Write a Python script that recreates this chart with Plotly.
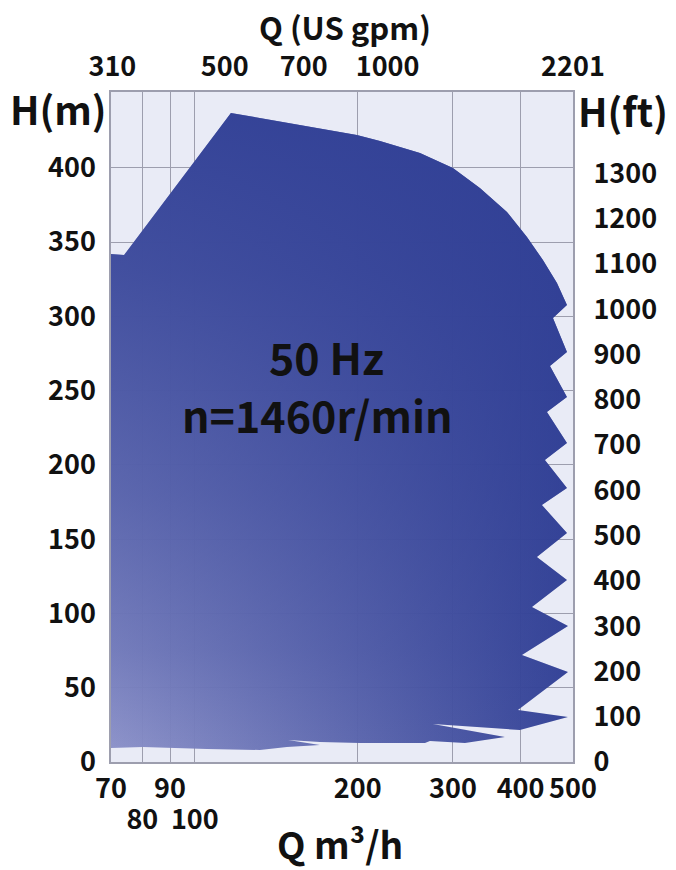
import math
import plotly.graph_objects as go

# Operating envelope boundary (Q in m3/h, H in m), traced clockwise
Q_BOUNDARY = [70, 74.0, 116.6, 199.3, 219.9, 260.7, 299.9, 336.4, 377.5, 411.0, 439.9, 467.0, 487.3,
              459.1, 487.3, 453.3, 487.3, 447.5, 487.3, 443.6, 487.3, 438.0, 487.3, 428.7, 487.3,
              419.8, 489.4, 402.3, 489.4, 395.5, 489.4, 398.8,
              275.4, 374.3, 315.7, 272.0, 266.3, 202.0, 170.3, 148.7, 170.3, 148.0, 131.9, 105.3,
              80.2, 70]
H_BOUNDARY = [342.0, 341.3, 436.9, 422.1, 418.0, 409.9, 399.8, 386.4, 370.2, 353.4, 337.9, 322.4, 307.6,
              298.9, 276.0, 266.6, 245.7, 235.6, 214.7, 203.3, 184.4, 173.0, 154.1, 138.0, 122.5,
              104.3, 91.5, 72.0, 60.6, 35.0, 30.3, 21.5,
              25.6, 16.8, 12.8, 14.1, 12.8, 12.8, 13.5, 14.8, 11.4, 10.1, 8.1, 8.75,
              10.1, 9.4]

Q_TICKS = [70, 80, 90, 100, 200, 300, 400, 500]
Q_TICK_TEXT_ROW1 = ["70", "", "90", "", "200", "300", "400", "500"]
Q_TICKS_ROW2 = [80, 100]
GPM_TICKS = [310, 500, 700, 1000, 2201]
H_M_TICKS = [0, 50, 100, 150, 200, 250, 300, 350, 400]
H_FT_TICKS = [0, 100, 200, 300, 400, 500, 600, 700, 800, 900, 1000, 1100, 1200, 1300]

Q_MIN, Q_MAX = 70, 500
H_MAX = 451
M3H_TO_GPM = 4.4029
M_TO_FT = 1 / 0.3048

FONT = "Noto Sans CJK KR"
DARK = "48,63,149"

fig = go.Figure()

# base layer: horizontal gradient
fig.add_trace(go.Scatter(
    x=Q_BOUNDARY, y=H_BOUNDARY, mode="lines", line=dict(width=0),
    fill="toself", opacity=0.96,
    fillgradient=dict(type="horizontal",
                      colorscale=[[0, "#8a90c8"], [1, f"rgb({DARK})"]]),
    hoverinfo="skip", showlegend=False))

# overlay: vertical darkening toward the top
fig.add_trace(go.Scatter(
    x=Q_BOUNDARY, y=H_BOUNDARY, mode="lines", line=dict(width=0),
    fill="toself",
    fillgradient=dict(type="vertical",
                      colorscale=[[0, f"rgba({DARK},0)"], [0.156, f"rgba({DARK},0.26)"],
                                  [0.40, f"rgba({DARK},0.52)"], [0.75, f"rgba({DARK},0.8)"],
                                  [1, f"rgba({DARK},0.93)"]]),
    hoverinfo="skip", showlegend=False))

# invisible companions for the secondary axes (US gpm / ft, second row of Q labels)
fig.add_trace(go.Scatter(
    x=[q * M3H_TO_GPM for q in Q_BOUNDARY], y=[h * M_TO_FT for h in H_BOUNDARY],
    xaxis="x2", yaxis="y2", mode="lines", line=dict(width=0), opacity=0,
    hoverinfo="skip", showlegend=False))
fig.add_trace(go.Scatter(
    x=Q_BOUNDARY, y=H_BOUNDARY, xaxis="x3", yaxis="y",
    mode="lines", line=dict(width=0), opacity=0, hoverinfo="skip", showlegend=False))

tickfont = dict(family=FONT, size=27, color="#111111", weight="bold")
GRID = "#9d9eae"
NOTICK = "rgba(0,0,0,0)"

fig.update_layout(
    width=668, height=862,
    margin=dict(l=103, r=103, t=84, b=108),
    paper_bgcolor="white", plot_bgcolor="#e9ebf6",
    xaxis=dict(type="log", range=[math.log10(Q_MIN), math.log10(Q_MAX)],
               tickvals=Q_TICKS, ticktext=Q_TICK_TEXT_ROW1, tickfont=tickfont, tickangle=0,
               showgrid=True, gridcolor=GRID, gridwidth=1, automargin=False,
               showline=True, linecolor=GRID, linewidth=1.5, mirror=True,
               ticks="outside", ticklen=2, tickcolor=NOTICK, zeroline=False),
    xaxis3=dict(type="log", overlaying="x", side="bottom", anchor="y", automargin=False,
                range=[math.log10(Q_MIN), math.log10(Q_MAX)],
                tickvals=Q_TICKS_ROW2, ticktext=[str(v) for v in Q_TICKS_ROW2],
                tickfont=tickfont, tickangle=0, showgrid=False, zeroline=False,
                ticks="outside", ticklen=34, tickcolor=NOTICK),
    xaxis2=dict(type="log", overlaying="x", side="top", anchor="y", automargin=False,
                range=[math.log10(Q_MIN * M3H_TO_GPM), math.log10(Q_MAX * M3H_TO_GPM)],
                tickvals=GPM_TICKS, ticktext=[str(v) for v in GPM_TICKS], tickfont=tickfont,
                tickangle=0, showgrid=False, ticks="outside", ticklen=4, tickcolor=NOTICK),
    yaxis=dict(range=[0, H_MAX], tickvals=H_M_TICKS, tickfont=tickfont, automargin=False,
               showgrid=True, gridcolor=GRID, gridwidth=1,
               showline=True, linecolor=GRID, linewidth=1.5, mirror=True,
               ticks="outside", ticklen=8, tickcolor=NOTICK, zeroline=False),
    yaxis2=dict(overlaying="y", side="right", anchor="x", automargin=False,
                range=[0, H_MAX * M_TO_FT], tickvals=H_FT_TICKS, tickfont=tickfont,
                showgrid=False, zeroline=False,
                ticks="outside", ticklen=14, tickcolor=NOTICK),
)

annots = [
    ("Q (US gpm)", 0.506, 1.0985, 31),
    ("H(m)", -0.1147, 0.976, 39),
    ("H(ft)", 1.108, 0.973, 39),
    ("Q m³/h", 0.496, -0.121, 37),
]
for txt, ax, ay, fs in annots:
    fig.add_annotation(text=txt, x=ax, y=ay, xref="paper", yref="paper",
                       xanchor="center", yanchor="middle", showarrow=False,
                       font=dict(family=FONT, size=fs, color="#111111", weight="bold"))

mid_font = dict(family=FONT, size=43, color="#111111", weight="bold")
fig.add_annotation(text="50 Hz", x=0.4675, y=0.606, xref="paper", yref="paper",
                   xanchor="center", yanchor="middle", showarrow=False, font=mid_font)
fig.add_annotation(text="n=1460r/min", x=0.448, y=0.5194, xref="paper", yref="paper",
                   xanchor="center", yanchor="middle", showarrow=False, font=mid_font)

fig.write_html("out.html")
